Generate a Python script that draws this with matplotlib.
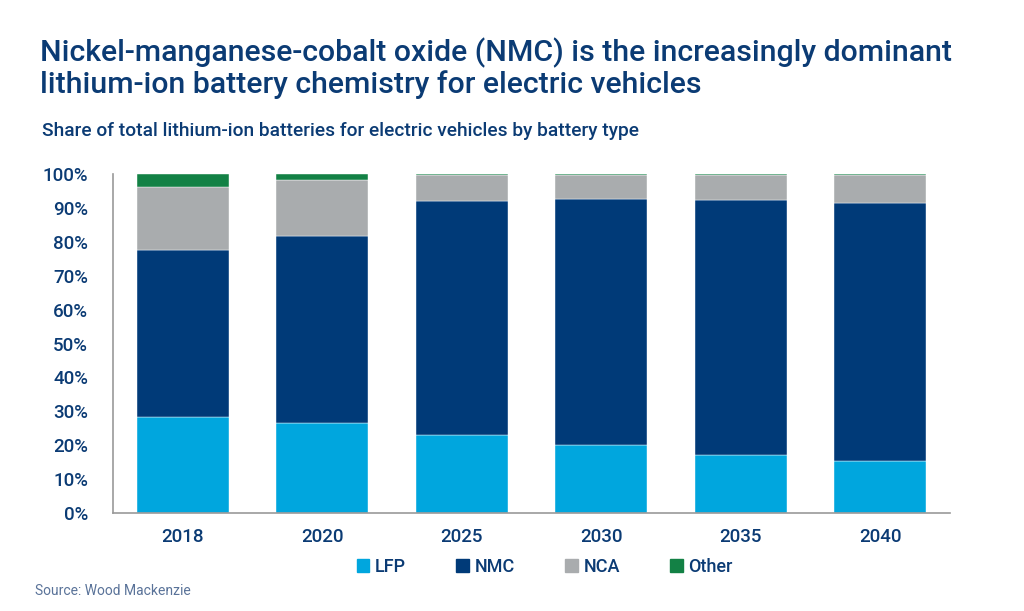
import matplotlib
matplotlib.use('Agg')
import matplotlib.pyplot as plt
import numpy as np
from matplotlib.patches import Patch

years = ['2018', '2020', '2025', '2030', '2035', '2040']
lfp = [28.4, 26.5, 22.9, 20.1, 17.0, 15.3]
nmc = [49.3, 55.3, 69.0, 72.4, 75.2, 76.1]
nca = [18.6, 16.3, 7.8, 7.2, 7.5, 8.3]
other = [3.7, 1.9, 0.3, 0.3, 0.3, 0.3]

series = ['LFP', 'NMC', 'NCA', 'Other']
colors = ['#00a6de', '#003a78', '#a9acae', '#138145']
text_blue = '#0b3b74'

plt.rcParams['font.family'] = ['Roboto', 'DejaVu Sans']

fig = plt.figure(figsize=(10.24, 6.11), dpi=100)
ax = fig.add_axes([0.1104, 0.1604, 0.8174, 0.5548])

x = np.arange(len(years))
bottom = np.zeros(len(years))
for vals, col in zip([lfp, nmc, nca, other], colors):
    ax.bar(x, vals, bottom=bottom, width=0.66, color=col, edgecolor='white', linewidth=0.3)
    bottom += np.array(vals)

ax.set_xlim(-0.5, len(years) - 0.5)
ax.set_ylim(0, 100)
ax.set_yticks(np.arange(0, 101, 10))
ax.set_yticklabels([f'{v}%' for v in range(0, 101, 10)])
ax.set_xticks(x)
ax.set_xticklabels(years)
ax.tick_params(axis='y', length=0, pad=18, labelsize=13.5, labelcolor=text_blue)
ax.tick_params(axis='x', length=0, pad=11, labelsize=13.5, labelcolor=text_blue)
for lab in ax.get_xticklabels() + ax.get_yticklabels():
    lab.set_fontweight('medium')

for s in ['top', 'right']:
    ax.spines[s].set_visible(False)
for s in ['left', 'bottom']:
    ax.spines[s].set_color('#999999')
    ax.spines[s].set_linewidth(1.2)

fig.text(0.039, 0.888, 'Nickel-manganese-cobalt oxide (NMC) is the increasingly dominant\n'
         'lithium-ion battery chemistry for electric vehicles',
         fontsize=21.8, fontweight='medium', color=text_blue, va='center', linespacing=1.1)
fig.text(0.041, 0.786, 'Share of total lithium-ion batteries for electric vehicles by battery type',
         fontsize=13.8, fontweight='medium', color=text_blue, va='center')
fig.text(0.034, 0.032, 'Source: Wood Mackenzie', fontsize=10, color='#5a7399', va='center')

handles = [Patch(color=c, label=s) for s, c in zip(series, colors)]
leg = fig.legend(handles=handles, loc='center', bbox_to_anchor=(0.532, 0.072), ncol=4,
                 frameon=False, handlelength=0.7, handleheight=0.7, handletextpad=0.3,
                 columnspacing=2.8, fontsize=13)
for t in leg.get_texts():
    t.set_color(text_blue)
    t.set_fontweight('medium')

fig.savefig('out.png', dpi=100, facecolor='white')
